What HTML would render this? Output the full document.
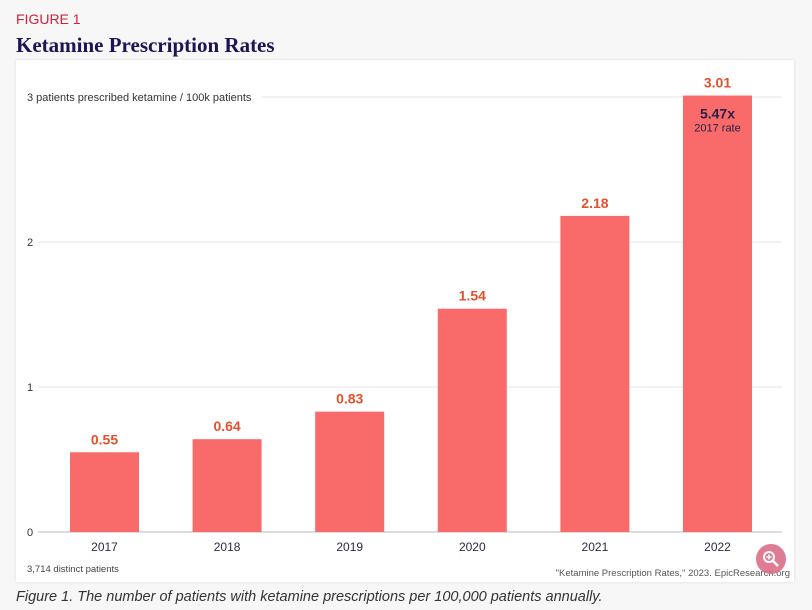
<!DOCTYPE html>
<html><head><meta charset="utf-8"><style>
body{margin:0;width:812px;height:610px;background:#f7f7f8;font-family:"Liberation Sans",sans-serif;position:relative;overflow:hidden}
.fig{position:absolute;left:16px;top:11px;color:#d0203c;font-size:14px}
.title{position:absolute;left:16px;top:33px;color:#1c1454;font-family:"Liberation Serif",serif;font-weight:bold;font-size:21px}
.card{position:absolute;left:16px;top:60px;width:778px;height:522px;background:#fff;box-shadow:0 0 3px rgba(0,0,0,.12)}
.cap{position:absolute;left:16px;top:589px;font-style:italic;color:#333;font-size:14.5px}
</style></head><body>
<div class="fig">FIGURE 1</div>
<div class="title">Ketamine Prescription Rates</div>
<div class="card"></div>
<svg id="c" width="812" height="610" style="position:absolute;left:0;top:0"></svg>
<div class="cap">Figure 1. The number of patients with ketamine prescriptions per 100,000 patients annually.</div>
<script>
const categories=["2017","2018","2019","2020","2021","2022"];
const values=[0.55,0.64,0.83,1.54,2.18,3.01];
const valueLabels=["0.55","0.64","0.83","1.54","2.18","3.01"];
const yTicks=[0,1,2,3];
const yTickLabels=["0","1","2","3 patients prescribed ketamine / 100k patients"];
const svg=document.getElementById('c');const NS="http://www.w3.org/2000/svg";
function y(v){return 532-v*145;}
const x0=43.2,step=122.6,bw=69;
function xc(i){return x0+step*(i+0.5);}
function mk(t,a,txt){const e=document.createElementNS(NS,t);for(const k in a)e.setAttribute(k,a[k]);if(txt!=null)e.textContent=txt;svg.appendChild(e);return e;}
yTicks.forEach((t,i)=>{
 const w=i==3?262:38;
 const g=mk('line',{x1:w,x2:782,y1:y(t),y2:y(t),stroke:t==0?'#dcdcdc':'#e6e6e6','stroke-width':t==0?2:1});
 
 
 const l=mk('text',{x:27,y:y(t)+4,'font-size':11,fill:'#333'},yTickLabels[i]);
 
 
});
categories.forEach((c,i)=>{
 const b=mk('rect',{x:xc(i)-bw/2,y:y(values[i]),width:bw,height:532-y(values[i]),fill:'#f96b6b'});
 
 
 const v=mk('text',{x:xc(i),y:y(values[i])-8,'text-anchor':'middle','font-size':14,'font-weight':'bold',fill:'#e5512c'},valueLabels[i]);
 
 
 const xl=mk('text',{x:xc(i),y:551,'text-anchor':'middle','font-size':12,fill:'#2a2a45'},c);
 
 
});
const li=values.length-1;
const a1=mk('text',{x:xc(li),y:y(values[li])+23,'text-anchor':'middle','font-size':14,'font-weight':'bold',fill:'#2a2040'},(values[li]/values[0]).toFixed(2)+'x');


const a2=mk('text',{x:xc(li),y:y(values[li])+36,'text-anchor':'middle','font-size':11,fill:'#2a2040'},'2017 rate');


const n=mk('text',{x:27,y:572,'font-size':9.5,fill:'#444'},'3,714 distinct patients');


const s=mk('text',{x:790,y:576,'text-anchor':'end','font-size':9.5,fill:'#555'},'"Ketamine Prescription Rates," 2023. EpicResearch.org');


const z=mk('circle',{cx:771,cy:559,r:15,fill:'#dc6e88',opacity:0.9});


mk('circle',{cx:769,cy:557,r:5,fill:'none',stroke:'#fff','stroke-width':2});
mk('line',{x1:773,y1:561,x2:778,y2:566,stroke:'#fff','stroke-width':2.5});
mk('line',{x1:766.5,y1:557,x2:771.5,y2:557,stroke:'#fff','stroke-width':1.5});
mk('line',{x1:769,y1:554.5,x2:769,y2:559.5,stroke:'#fff','stroke-width':1.5});
</script>
</body></html>
